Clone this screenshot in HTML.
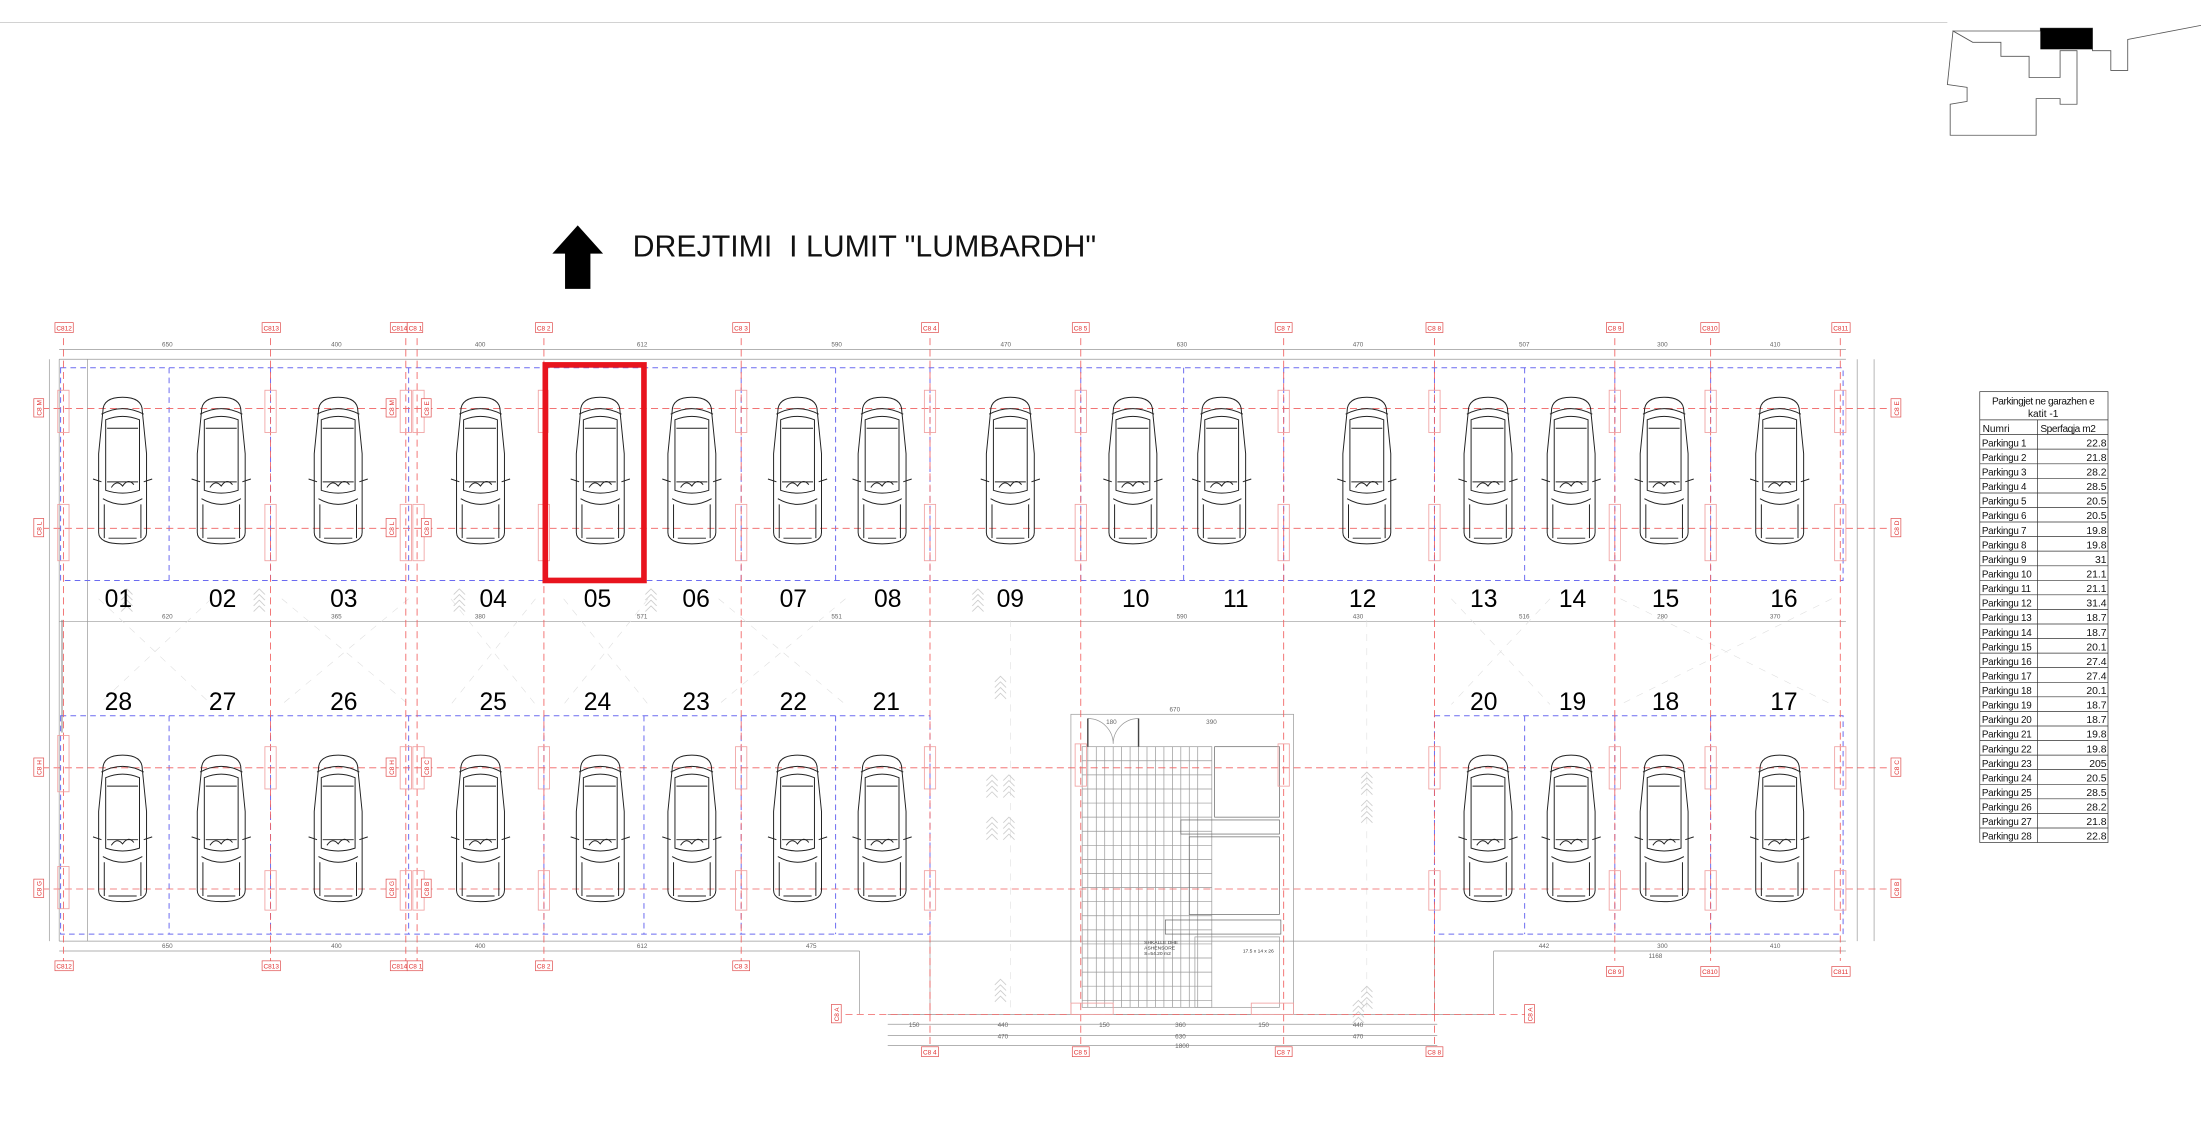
<!DOCTYPE html>
<html><head><meta charset="utf-8"><style>
html,body{margin:0;padding:0;background:#fff;}
svg{display:block;}
text{font-family:"Liberation Sans",sans-serif;}
</style></head><body>
<svg width="2201" height="1144" viewBox="0 0 1562 812" preserveAspectRatio="none" xmlns="http://www.w3.org/2000/svg">
<defs>
<g id="car" fill="none" stroke="#222" stroke-width="0.7">
<path d="M8,10 Q8,0 22,0 Q36,0 36,10 L39,40 L39,96 Q39,104 22,104 Q5,104 5,96 L5,40 Z"/>
<path d="M7,12 Q22,4 37,12"/>
<path d="M10,16 Q22,11 34,16 L34,66 Q22,70 10,66 Z"/>
<path d="M11,22 L33,22 M11,60 L33,60"/>
<path d="M1,58 L7,60 M43,58 L37,60"/>
<path d="M8,72 Q22,80 36,72"/>
<path d="M9,76 L9,100 M35,76 L35,100"/>
<path d="M14,64 q4,-6 8,-1 q4,-6 8,-1"/>
<path d="M12,100 L32,100"/>
</g>
<g id="chev" fill="none" stroke="#bbb" stroke-width="0.5">
<path d="M0,4 L4,0 L8,4 M0,8 L4,4 L8,8 M0,12 L4,8 L8,12 M0,16 L4,12 L8,16"/>
</g>
</defs>

<line x1="0" y1="16" x2="1382" y2="16" stroke="#ccc" stroke-width="0.6"/>
<g fill="none" stroke="#555" stroke-width="0.6">
<path d="M1386,22 L1448,22 L1448,20 L1485,20 L1485,36 L1498,36 L1498,50 L1510,50 L1510,28 L1562,18"/>
<path d="M1386,22 L1382,60 L1396,62 L1396,72 L1384,74 L1384,96 L1445,96 L1445,70 L1462,70 L1462,74 L1474,74 L1474,36 L1462,36 L1462,55 L1440,55 L1440,40 L1420,40 L1420,30 L1400,30 Z"/>
</g>
<rect x="1448" y="20" width="37" height="15" fill="#000"/>

<path d="M410,160 L428,180 L419,180 L419,205 L401,205 L401,180 L392,180 Z" fill="#000"/>
<text x="449" y="182" font-size="21.5" fill="#111">DREJTIMI&#160; I LUMIT "LUMBARDH"</text>

<g stroke="#999" stroke-width="0.5" fill="none">
<line x1="42" y1="248" x2="1310" y2="248"/>
<line x1="42" y1="255" x2="1310" y2="255"/>
<line x1="42" y1="441" x2="1310" y2="441"/>
<line x1="42" y1="668" x2="1310" y2="668"/>
<line x1="42" y1="675" x2="610" y2="675"/>
<line x1="1060" y1="675" x2="1310" y2="675"/>
<line x1="630" y1="727" x2="1020" y2="727"/>
<line x1="630" y1="735" x2="1020" y2="735"/>
<line x1="630" y1="742" x2="1020" y2="742"/>
<line x1="35" y1="255" x2="35" y2="668"/>
<line x1="42" y1="255" x2="42" y2="668"/>
<line x1="62" y1="255" x2="62" y2="668"/>
<line x1="1318" y1="255" x2="1318" y2="668"/>
<line x1="1330" y1="255" x2="1330" y2="668"/>
<line x1="660" y1="668" x2="660" y2="720"/>
<line x1="630" y1="720" x2="1060" y2="720"/>
<line x1="1018" y1="668" x2="1018" y2="720"/>
<line x1="1060" y1="675" x2="1060" y2="720"/>
<line x1="610" y1="675" x2="610" y2="720"/>
<line x1="44" y1="440" x2="44" y2="520" stroke="#555"/>
</g>
<g font-size="4.5" fill="#666">
<text x="115" y="246">650</text><text x="235" y="246">400</text><text x="337" y="246">400</text><text x="452" y="246">612</text>
<text x="590" y="246">590</text><text x="710" y="246">470</text><text x="835" y="246">630</text><text x="960" y="246">470</text>
<text x="1078" y="246">507</text><text x="1176" y="246">300</text><text x="1256" y="246">410</text>
<text x="115" y="439">620</text><text x="235" y="439">365</text><text x="337" y="439">380</text><text x="452" y="439">571</text>
<text x="590" y="439">551</text><text x="835" y="439">590</text><text x="960" y="439">430</text><text x="1078" y="439">516</text><text x="1176" y="439">280</text><text x="1256" y="439">370</text>
<text x="115" y="673">650</text><text x="235" y="673">400</text><text x="337" y="673">400</text><text x="452" y="673">612</text><text x="572" y="673">475</text>
<text x="1092" y="673">442</text><text x="1176" y="673">300</text><text x="1256" y="673">410</text><text x="1170" y="680">1168</text>
<text x="708" y="729">440</text><text x="708" y="737">470</text><text x="834" y="729">360</text><text x="834" y="737">630</text><text x="834" y="744">1800</text>
<text x="960" y="729">440</text><text x="960" y="737">470</text><text x="645" y="729">150</text><text x="780" y="729">150</text><text x="893" y="729">150</text>
</g>

<g stroke="#ddd" stroke-width="0.4" stroke-dasharray="5,5" fill="none">
<path d="M70,425 L150,500 M150,425 L70,500 M200,425 L290,500 M290,425 L200,500 M320,425 L380,500 M380,425 L320,500 M400,425 L460,500 M460,425 L400,500 M510,425 L600,500 M600,425 L510,500 M1030,425 L1100,500 M1100,425 L1030,500 M1150,425 L1300,500 M1300,425 L1150,500"/>
<line x1="717" y1="440" x2="717" y2="720"/>
<line x1="970" y1="440" x2="970" y2="720"/>
</g>
<g opacity="0.9">
<use href="#chev" x="86" y="418"/><use href="#chev" x="180" y="418"/><use href="#chev" x="322" y="418"/><use href="#chev" x="458" y="418"/><use href="#chev" x="690" y="418"/>
<use href="#chev" x="700" y="550"/><use href="#chev" x="712" y="550"/><use href="#chev" x="700" y="580"/><use href="#chev" x="712" y="580"/>
<use href="#chev" x="966" y="548"/><use href="#chev" x="966" y="568"/><use href="#chev" x="966" y="700"/><use href="#chev" x="960" y="710"/>
<use href="#chev" x="706" y="480"/><use href="#chev" x="706" y="695"/>
</g>

<g stroke="#6b6bf0" stroke-width="0.7" stroke-dasharray="4,3" fill="none">
<rect x="43" y="261" width="1265" height="151"/>
<path d="M120,261 V412 M192,261 V412 M290,261 V412 M386,261 V412 M457,261 V412 M526,261 V412 M593,261 V412 M660,261 V412 M767,261 V412 M840,261 V412 M911,261 V412 M1018,261 V412 M1082,261 V412 M1146,261 V412 M1214,261 V412"/>
<rect x="43" y="508" width="617" height="155"/>
<path d="M120,508 V663 M192,508 V663 M290,508 V663 M386,508 V663 M457,508 V663 M526,508 V663 M593,508 V663"/>
<rect x="1018" y="508" width="290" height="155"/>
<path d="M1082,508 V663 M1146,508 V663 M1214,508 V663"/>
</g>

<g stroke="#999" stroke-width="0.5" fill="none">
<rect x="760" y="507" width="158" height="213"/>
<rect x="768" y="530" width="92" height="185"/>
<path d="M772,530 V715 M778,530 V715 M784,530 V715 M790,530 V715 M796,530 V715 M802,530 V715 M808,530 V715 M814,530 V715 M820,530 V715 M826,530 V715 M832,530 V715 M838,530 V715 M844,530 V715 M850,530 V715"/>
<path d="M768,540 H860 M768,550 H860 M768,560 H860 M768,570 H860 M768,580 H860 M768,590 H860 M768,600 H860 M768,610 H860 M768,620 H860 M768,630 H860 M768,640 H860 M768,650 H860 M768,660 H860 M768,670 H860 M768,680 H860 M768,690 H860 M768,700 H860 M768,710 H860"/>
<rect x="862" y="530" width="46" height="50" stroke="#666"/>
<rect x="838" y="582" width="70" height="10" stroke="#666"/>
<rect x="844" y="594" width="64" height="55" stroke="#666"/>
<rect x="827" y="653" width="82" height="10" stroke="#666"/>
<rect x="848" y="665" width="60" height="50"/>
<path d="M772,510 A18,18 0 0 1 790,528 M808,510 A18,18 0 0 0 790,528"/>
<line x1="772" y1="510" x2="772" y2="530" stroke="#444" stroke-width="1"/>
<line x1="808" y1="510" x2="808" y2="530" stroke="#444" stroke-width="1"/>
</g>
<g font-size="3.5" fill="#333"><text x="812" y="670">SHKALLE DHE</text><text x="812" y="674">ASHENSORE</text><text x="812" y="678">S=54.20 m2</text><text x="882" y="676">17.5 x 14 x 26</text></g>
<g font-size="4.5" fill="#666"><text x="830" y="505">670</text><text x="785" y="514">180</text><text x="856" y="514">390</text></g>

<g stroke="#f06060" stroke-width="0.6" stroke-dasharray="5,3" fill="none">
<path d="M30,290 H1340 M30,375 H1340 M30,545 H1340 M30,631 H1340"/>
<path d="M45,240 V682 M192,240 V682 M288,240 V682 M296,240 V682 M386,240 V682 M526,240 V682 M1146,240 V682 M1214,240 V682 M1306,240 V682"/>
<path d="M660,240 V743 M767,240 V743 M911,240 V743 M1018,240 V743"/>
<path d="M600,720 H1082"/>
</g>
<g stroke="#f0a0a0" stroke-width="0.6" fill="none">
<rect x="41" y="277" width="8" height="30"/><rect x="41" y="358" width="8" height="40"/><rect x="41" y="522" width="8" height="40"/><rect x="41" y="615" width="8" height="30"/>
<rect x="188" y="277" width="8" height="30"/><rect x="188" y="358" width="8" height="40"/><rect x="188" y="530" width="8" height="30"/><rect x="188" y="618" width="8" height="28"/>
<rect x="284" y="277" width="8" height="30"/><rect x="293" y="277" width="8" height="30"/><rect x="284" y="358" width="8" height="40"/><rect x="293" y="358" width="8" height="40"/>
<rect x="284" y="530" width="8" height="30"/><rect x="293" y="530" width="8" height="30"/><rect x="284" y="618" width="8" height="28"/><rect x="293" y="618" width="8" height="28"/>
<rect x="382" y="277" width="7" height="30"/><rect x="382" y="358" width="8" height="40"/><rect x="382" y="530" width="8" height="30"/><rect x="382" y="618" width="8" height="28"/>
<rect x="522" y="277" width="8" height="30"/><rect x="522" y="358" width="8" height="40"/><rect x="522" y="530" width="8" height="30"/><rect x="522" y="618" width="8" height="28"/>
<rect x="656" y="277" width="8" height="30"/><rect x="656" y="358" width="8" height="40"/><rect x="656" y="530" width="8" height="30"/><rect x="656" y="618" width="8" height="28"/>
<rect x="763" y="277" width="8" height="30"/><rect x="763" y="358" width="8" height="40"/><rect x="763" y="528" width="8" height="30"/><rect x="760" y="712" width="30" height="8"/>
<rect x="907" y="277" width="8" height="30"/><rect x="907" y="358" width="8" height="40"/><rect x="907" y="528" width="8" height="30"/><rect x="888" y="712" width="30" height="8"/>
<rect x="1014" y="277" width="8" height="30"/><rect x="1014" y="358" width="8" height="40"/><rect x="1014" y="530" width="8" height="30"/><rect x="1014" y="618" width="8" height="28"/>
<rect x="1142" y="277" width="8" height="30"/><rect x="1142" y="358" width="8" height="40"/><rect x="1142" y="530" width="8" height="30"/><rect x="1142" y="618" width="8" height="28"/>
<rect x="1210" y="277" width="8" height="30"/><rect x="1210" y="358" width="8" height="40"/><rect x="1210" y="530" width="8" height="30"/><rect x="1210" y="618" width="8" height="28"/>
<rect x="1302" y="277" width="8" height="30"/><rect x="1302" y="358" width="8" height="40"/><rect x="1302" y="530" width="8" height="30"/><rect x="1302" y="618" width="8" height="28"/>
</g>

<g font-size="4.6" fill="#e03030">
<g stroke="#e05050" stroke-width="0.5" fill="#fff">
<rect x="39" y="229" width="13" height="7"/><rect x="186" y="229" width="13" height="7"/><rect x="277" y="229" width="12" height="7"/><rect x="289" y="229" width="11" height="7"/>
<rect x="380" y="229" width="12" height="7"/><rect x="520" y="229" width="12" height="7"/><rect x="654" y="229" width="12" height="7"/><rect x="761" y="229" width="12" height="7"/>
<rect x="905" y="229" width="12" height="7"/><rect x="1012" y="229" width="12" height="7"/><rect x="1140" y="229" width="12" height="7"/><rect x="1207" y="229" width="13" height="7"/><rect x="1300" y="229" width="13" height="7"/>
<rect x="39" y="682" width="13" height="7"/><rect x="186" y="682" width="13" height="7"/><rect x="277" y="682" width="12" height="7"/><rect x="289" y="682" width="11" height="7"/>
<rect x="380" y="682" width="12" height="7"/><rect x="520" y="682" width="12" height="7"/><rect x="1140" y="686" width="12" height="7"/><rect x="1207" y="686" width="13" height="7"/><rect x="1300" y="686" width="13" height="7"/>
<rect x="654" y="743" width="12" height="7"/><rect x="761" y="743" width="12" height="7"/><rect x="905" y="743" width="12" height="7"/><rect x="1012" y="743" width="12" height="7"/>
<rect x="24" y="283" width="7" height="13"/><rect x="24" y="368" width="7" height="13"/><rect x="24" y="538" width="7" height="13"/><rect x="24" y="624" width="7" height="13"/>
<rect x="1342" y="283" width="7" height="13"/><rect x="1342" y="368" width="7" height="13"/><rect x="1342" y="538" width="7" height="13"/><rect x="1342" y="624" width="7" height="13"/>
<rect x="274" y="283" width="7" height="13"/><rect x="299" y="283" width="7" height="13"/><rect x="274" y="368" width="7" height="13"/><rect x="299" y="368" width="7" height="13"/>
<rect x="274" y="538" width="7" height="13"/><rect x="299" y="538" width="7" height="13"/><rect x="274" y="624" width="7" height="13"/><rect x="299" y="624" width="7" height="13"/>
<rect x="590" y="713" width="7" height="13"/><rect x="1082" y="713" width="7" height="13"/>
</g>
<text x="40" y="234.5">C812</text><text x="187" y="234.5">C813</text><text x="278" y="234.5">C814</text><text x="290" y="234.5">C8 1</text>
<text x="381" y="234.5">C8 2</text><text x="521" y="234.5">C8 3</text><text x="655" y="234.5">C8 4</text><text x="762" y="234.5">C8 5</text>
<text x="906" y="234.5">C8 7</text><text x="1013" y="234.5">C8 8</text><text x="1141" y="234.5">C8 9</text><text x="1208" y="234.5">C810</text><text x="1301" y="234.5">C811</text>
<text x="40" y="687.5">C812</text><text x="187" y="687.5">C813</text><text x="278" y="687.5">C814</text><text x="290" y="687.5">C8 1</text>
<text x="381" y="687.5">C8 2</text><text x="521" y="687.5">C8 3</text><text x="1141" y="691.5">C8 9</text><text x="1208" y="691.5">C810</text><text x="1301" y="691.5">C811</text>
<text x="655" y="748.5">C8 4</text><text x="762" y="748.5">C8 5</text><text x="906" y="748.5">C8 7</text><text x="1013" y="748.5">C8 8</text>
<text transform="translate(29.5,295) rotate(-90)">C8 M</text><text transform="translate(29.5,380) rotate(-90)">C8 L</text><text transform="translate(29.5,550) rotate(-90)">C8 H</text><text transform="translate(29.5,636) rotate(-90)">C8 G</text>
<text transform="translate(1347.5,295) rotate(-90)">C8 E</text><text transform="translate(1347.5,380) rotate(-90)">C8 D</text><text transform="translate(1347.5,550) rotate(-90)">C8 C</text><text transform="translate(1347.5,636) rotate(-90)">C8 B</text>
<text transform="translate(279.5,295) rotate(-90)">C8 M</text><text transform="translate(304.5,295) rotate(-90)">C8 E</text><text transform="translate(279.5,380) rotate(-90)">C8 L</text><text transform="translate(304.5,380) rotate(-90)">C8 D</text>
<text transform="translate(279.5,550) rotate(-90)">C8 H</text><text transform="translate(304.5,550) rotate(-90)">C8 C</text><text transform="translate(279.5,636) rotate(-90)">C8 G</text><text transform="translate(304.5,636) rotate(-90)">C8 B</text>
<text transform="translate(595.5,725) rotate(-90)">C8 A</text><text transform="translate(1087.5,725) rotate(-90)">C8 A</text>
</g>

<g>
<use href="#car" x="65" y="282"/><use href="#car" x="135" y="282"/><use href="#car" x="218" y="282"/><use href="#car" x="319" y="282"/>
<use href="#car" x="404" y="282"/><use href="#car" x="469" y="282"/><use href="#car" x="544" y="282"/><use href="#car" x="604" y="282"/>
<use href="#car" x="695" y="282"/><use href="#car" x="782" y="282"/><use href="#car" x="845" y="282"/><use href="#car" x="948" y="282"/>
<use href="#car" x="1034" y="282"/><use href="#car" x="1093" y="282"/><use href="#car" x="1159" y="282"/><use href="#car" x="1241" y="282"/>
<use href="#car" x="65" y="536"/><use href="#car" x="135" y="536"/><use href="#car" x="218" y="536"/><use href="#car" x="319" y="536"/>
<use href="#car" x="404" y="536"/><use href="#car" x="469" y="536"/><use href="#car" x="544" y="536"/><use href="#car" x="604" y="536"/>
<use href="#car" x="1034" y="536"/><use href="#car" x="1093" y="536"/><use href="#car" x="1159" y="536"/><use href="#car" x="1241" y="536"/>
</g>

<g font-size="17.5" fill="#000" text-anchor="middle">
<text x="84" y="431">01</text><text x="158" y="431">02</text><text x="244" y="431">03</text><text x="350" y="431">04</text>
<text x="424" y="431">05</text><text x="494" y="431">06</text><text x="563" y="431">07</text><text x="630" y="431">08</text>
<text x="717" y="431">09</text><text x="806" y="431">10</text><text x="877" y="431">11</text><text x="967" y="431">12</text>
<text x="1053" y="431">13</text><text x="1116" y="431">14</text><text x="1182" y="431">15</text><text x="1266" y="431">16</text>
<text x="84" y="504">28</text><text x="158" y="504">27</text><text x="244" y="504">26</text><text x="350" y="504">25</text>
<text x="424" y="504">24</text><text x="494" y="504">23</text><text x="563" y="504">22</text><text x="629" y="504">21</text>
<text x="1053" y="504">20</text><text x="1116" y="504">19</text><text x="1182" y="504">18</text><text x="1266" y="504">17</text>
</g>

<rect x="387" y="259" width="70" height="153" fill="none" stroke="#e8141e" stroke-width="4"/>

<g stroke="#333" stroke-width="0.5" fill="none">
<rect x="1405" y="278" width="91" height="320"/>
<line x1="1405" y1="298" x2="1496" y2="298"/>
<line x1="1446" y1="298" x2="1446" y2="598"/>
<path d="M1405,308.5H1496 M1405,318.8H1496 M1405,329.2H1496 M1405,339.5H1496 M1405,349.9H1496 M1405,360.2H1496 M1405,370.5H1496 M1405,380.9H1496 M1405,391.2H1496 M1405,401.6H1496 M1405,411.9H1496 M1405,422.2H1496 M1405,432.6H1496 M1405,442.9H1496 M1405,453.3H1496 M1405,463.6H1496 M1405,473.9H1496 M1405,484.3H1496 M1405,494.6H1496 M1405,505H1496 M1405,515.3H1496 M1405,525.6H1496 M1405,536H1496 M1405,546.3H1496 M1405,556.7H1496 M1405,567H1496 M1405,577.3H1496 M1405,587.7H1496"/>
</g>
<g font-size="7.2" fill="#111">
<text x="1450" y="287" text-anchor="middle" letter-spacing="-0.3">Parkingjet ne garazhen e</text>
<text x="1450" y="296" text-anchor="middle">katit -1</text>
<text x="1407" y="306.5">Numri</text><text x="1448" y="306.5" letter-spacing="-0.3">Sperfaqja m2</text>
</g>
<g font-size="7" fill="#111" letter-spacing="-0.2">
<text x="1406.5" y="316.8">Parkingu 1</text><text x="1406.5" y="327.2">Parkingu 2</text><text x="1406.5" y="337.5">Parkingu 3</text><text x="1406.5" y="347.9">Parkingu 4</text>
<text x="1406.5" y="358.2">Parkingu 5</text><text x="1406.5" y="368.5">Parkingu 6</text><text x="1406.5" y="378.9">Parkingu 7</text><text x="1406.5" y="389.2">Parkingu 8</text>
<text x="1406.5" y="399.6">Parkingu 9</text><text x="1406.5" y="409.9">Parkingu 10</text><text x="1406.5" y="420.2">Parkingu 11</text><text x="1406.5" y="430.6">Parkingu 12</text>
<text x="1406.5" y="440.9">Parkingu 13</text><text x="1406.5" y="451.3">Parkingu 14</text><text x="1406.5" y="461.6">Parkingu 15</text><text x="1406.5" y="471.9">Parkingu 16</text>
<text x="1406.5" y="482.3">Parkingu 17</text><text x="1406.5" y="492.6">Parkingu 18</text><text x="1406.5" y="503">Parkingu 19</text><text x="1406.5" y="513.3">Parkingu 20</text>
<text x="1406.5" y="523.6">Parkingu 21</text><text x="1406.5" y="534">Parkingu 22</text><text x="1406.5" y="544.3">Parkingu 23</text><text x="1406.5" y="554.7">Parkingu 24</text>
<text x="1406.5" y="565">Parkingu 25</text><text x="1406.5" y="575.3">Parkingu 26</text><text x="1406.5" y="585.7">Parkingu 27</text><text x="1406.5" y="596">Parkingu 28</text>
</g>
<g font-size="7.4" fill="#111" text-anchor="end">
<text x="1495" y="316.8">22.8</text><text x="1495" y="327.2">21.8</text><text x="1495" y="337.5">28.2</text><text x="1495" y="347.9">28.5</text>
<text x="1495" y="358.2">20.5</text><text x="1495" y="368.5">20.5</text><text x="1495" y="378.9">19.8</text><text x="1495" y="389.2">19.8</text>
<text x="1495" y="399.6">31</text><text x="1495" y="409.9">21.1</text><text x="1495" y="420.2">21.1</text><text x="1495" y="430.6">31.4</text>
<text x="1495" y="440.9">18.7</text><text x="1495" y="451.3">18.7</text><text x="1495" y="461.6">20.1</text><text x="1495" y="471.9">27.4</text>
<text x="1495" y="482.3">27.4</text><text x="1495" y="492.6">20.1</text><text x="1495" y="503">18.7</text><text x="1495" y="513.3">18.7</text>
<text x="1495" y="523.6">19.8</text><text x="1495" y="534">19.8</text><text x="1495" y="544.3">205</text><text x="1495" y="554.7">20.5</text>
<text x="1495" y="565">28.5</text><text x="1495" y="575.3">28.2</text><text x="1495" y="585.7">21.8</text><text x="1495" y="596">22.8</text>
</g>
</svg>
</body></html>
